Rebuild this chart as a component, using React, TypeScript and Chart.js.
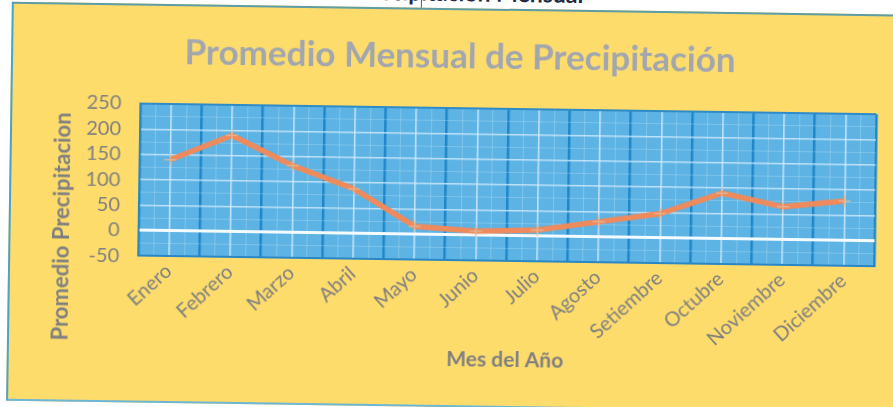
import React, { useEffect, useRef } from 'react';
import { Chart, registerables } from 'chart.js';

Chart.register(...registerables);

const months = ['Enero', 'Febrero', 'Marzo', 'Abril', 'Mayo', 'Junio', 'Julio', 'Agosto', 'Setiembre', 'Octubre', 'Noviembre', 'Diciembre'];
const precipitation = [140, 190, 132, 88, 16, 8, 12, 30, 48, 90, 65, 78];
const yTickLabels = [-50, 0, 50, 100, 150, 200, 250];
const chartTitle = 'Promedio Mensual de Precipitación';
const xAxisTitle = 'Mes del Año';
const yAxisTitle = 'Promedio Precipitacion';
const pageHeading = 'Precipitación Mensual';

const FONT = 'Lato, "Open Sans", sans-serif';

const plotBackground = {
  id: 'plotBackground',
  beforeDraw(chart: any) {
    const { ctx, chartArea } = chart;
    if (!chartArea) return;
    ctx.save();
    ctx.fillStyle = '#5DB3E4';
    ctx.fillRect(chartArea.left, chartArea.top, chartArea.right - chartArea.left, chartArea.bottom - chartArea.top);
    ctx.restore();
  },
};

function PrecipChart() {
  const ref = useRef<HTMLCanvasElement | null>(null);
  useEffect(() => {
    if (!ref.current) return;
    Chart.defaults.font.family = FONT;
    const chart = new Chart(ref.current, {
      type: 'line',
      data: {
        labels: months,
        datasets: [
          {
            data: precipitation,
            borderColor: '#EE8A5C',
            borderWidth: 5.5,
            tension: 0,
            fill: false,
            pointStyle: 'cross',
            pointRadius: 6,
            pointBorderWidth: 1.5,
            pointBorderColor: 'rgba(225,185,150,0.85)',
            pointBackgroundColor: 'rgba(0,0,0,0)',
          },
        ],
      },
      options: {
        responsive: false,
        animation: false,
        events: [],
        layout: { padding: { left: 29, right: 18, top: 24, bottom: 25 } },
        plugins: {
          legend: { display: false },
          tooltip: { enabled: false },
          title: {
            display: true,
            text: chartTitle,
            color: '#A2A6AE',
            font: { family: FONT, size: 35, weight: 'bold' },
            padding: { top: 0, bottom: 30 },
          },
        },
        scales: {
          x: {
            type: 'category',
            offset: true,
            grid: {
              offset: true,
              drawTicks: false,
              color: '#1F87C9',
              lineWidth: 2.5,
            },
            border: { display: true, color: '#2A86C4', width: 2 },
            ticks: {
              autoSkip: false,
              maxRotation: 43,
              minRotation: 43,
              padding: 3,
              color: '#7F7F7F',
              font: { family: FONT, size: 20 },
            },
            title: {
              display: true,
              text: xAxisTitle,
              color: '#7F7F7F',
              font: { family: FONT, size: 21, weight: 'bold' },
              padding: 0,
            },
            afterFit(scale: any) {
              scale.height = 111.8;
            },
          },
          x2: {
            type: 'linear',
            position: 'top',
            min: -0.5,
            max: 11.5,
            ticks: { display: false, stepSize: 0.25 },
            border: { display: false },
            grid: {
              drawTicks: false,
              color(ctx: any) {
                const v = ctx.tick.value;
                const frac = ((v % 1) + 1) % 1;
                if (frac === 0) return 'rgba(215,238,252,0.8)';
                if (frac === 0.5) return 'rgba(0,0,0,0)';
                return 'rgba(200,232,250,0.32)';
              },
              lineWidth(ctx: any) {
                const v = ctx.tick.value;
                const frac = ((v % 1) + 1) % 1;
                return frac === 0 ? 1.6 : 1;
              },
            },
          },
          y: {
            min: -50,
            max: 250,
            ticks: {
              stepSize: 25,
              autoSkip: false,
              padding: 19,
              color: '#7F7F7F',
              font: { family: FONT, size: 20 },
              callback(value: any) {
                return yTickLabels.includes(Number(value)) ? String(value) : '';
              },
            },
            border: { display: true, color: '#2A86C4', width: 2 },
            grid: {
              drawTicks: false,
              color(ctx: any) {
                const v = ctx.tick.value;
                if (v === 0) return '#F4FBFF';
                if (v === 250 || v === -50) return '#2F8BC6';
                if (v % 50 === 0) return 'rgba(215,238,252,0.8)';
                return 'rgba(200,232,250,0.3)';
              },
              lineWidth(ctx: any) {
                const v = ctx.tick.value;
                if (v === 0) return 3;
                if (v === 250 || v === -50) return 2;
                if (v % 50 === 0) return 1.6;
                return 1;
              },
            },
            afterFit(scale: any) {
              scale.width = 98;
            },
          },
        },
      },
      plugins: [plotBackground],
    });
    return () => chart.destroy();
  }, []);
  return <canvas ref={ref} width={881} height={385} style={{ display: 'block' }} />;
}

export default function App() {
  return (
    <div style={{ position: 'fixed', left: 0, top: 0, width: 893, height: 407, background: '#ffffff', overflow: 'hidden' }}>
      <div style={{ position: 'absolute', left: 0, top: 0, width: 893, height: 407, transform: 'rotate(0.83deg)', transformOrigin: '446.5px 203.5px' }}>
        <div
          style={{
            position: 'absolute',
            left: 267,
            width: 400,
            top: -19,
            textAlign: 'center',
            fontFamily: FONT,
            fontWeight: 'bold',
            fontSize: 23,
            lineHeight: '22px',
            color: '#1E2A44',
            whiteSpace: 'nowrap',
          }}
        >
          {pageHeading}
        </div>
        <div style={{ position: 'absolute', left: 418, top: 0, width: 1, height: 9, background: '#555' }} />
        <div
          style={{
            position: 'absolute',
            left: 9,
            top: 8,
            width: 900,
            height: 395,
            background: '#FDDC6C',
            borderLeft: '2px solid #4BA3C8',
            borderTop: '2px solid #5E9CA6',
            borderBottom: '2px solid #6DB6D6',
          }}
        />
        <div style={{ position: 'absolute', left: 12, top: 12, width: 881, height: 385 }}>
          <PrecipChart />
        </div>
        <div
          style={{
            position: 'absolute',
            left: 60.5,
            top: 232,
            transform: 'translate(-50%, -50%) rotate(-90deg)',
            fontFamily: FONT,
            fontWeight: 'bold',
            fontSize: 22,
            color: '#7F7F7F',
            whiteSpace: 'nowrap',
          }}
        >
          {yAxisTitle}
        </div>
      </div>
    </div>
  );
}
